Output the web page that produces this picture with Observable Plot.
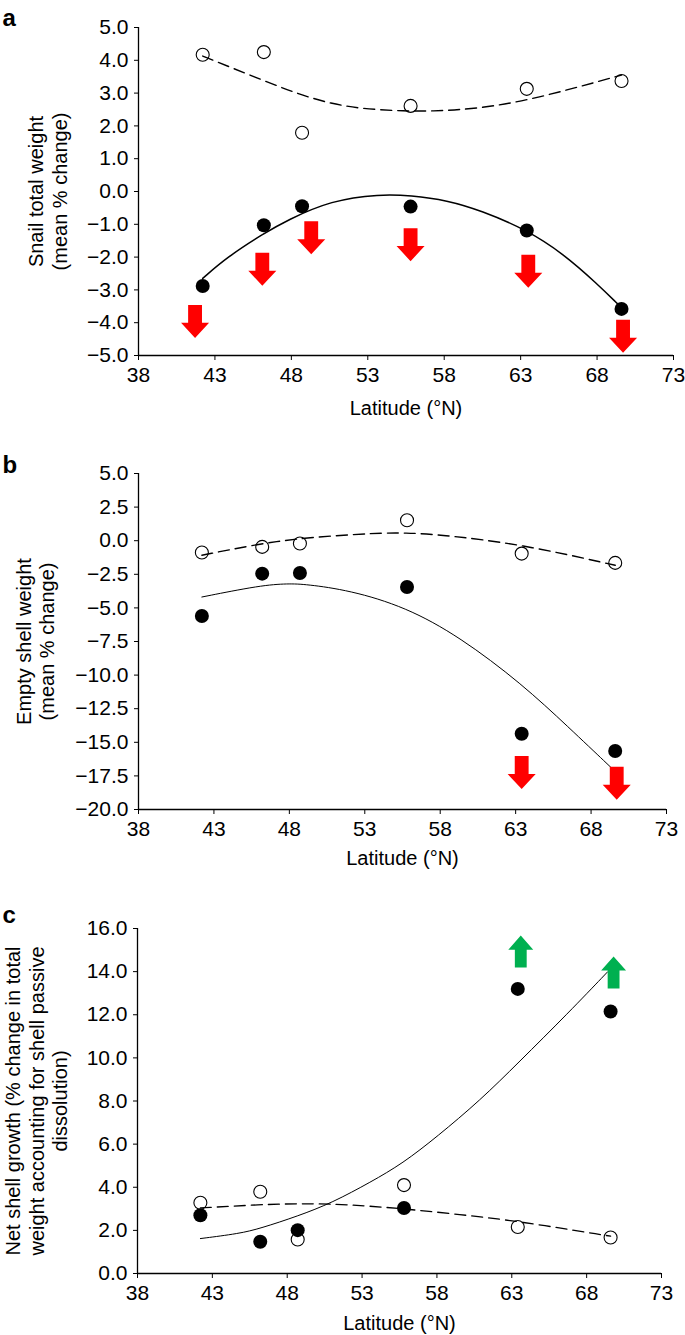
<!DOCTYPE html>
<html><head><meta charset="utf-8">
<script src="https://cdn.jsdelivr.net/npm/d3@7"></script>
<script src="https://cdn.jsdelivr.net/npm/@observablehq/plot@0.6"></script>
<style>
body{margin:0;background:#fff;}
#chart{position:relative;width:685px;height:1335px;}
#chart > svg{position:absolute;left:0;}
</style></head>
<body><div id="chart"></div>
<script>
const FONT = "'Liberation Sans', Arial, Helvetica, sans-serif";
const xTicks = [38, 43, 48, 53, 58, 63, 68, 73];
const latitude = [42.2, 46.2, 48.7, 55.8, 63.4, 69.6];

// Panel a – snail total weight (mean % change)
const aTicks = [-5, -4, -3, -2, -1, 0, 1, 2, 3, 4, 5];
const aOpen = [4.17, 4.25, 1.79, 2.61, 3.13, 3.37];
const aFilled = [-2.88, -1.03, -0.45, -0.46, -1.19, -3.58];
const aDashedLat = [42.2, 44.0, 46.2, 48.4, 50.6, 52.7, 55.0, 57.1, 60.4, 63.6, 66.9, 69.6];
const aDashedVal = [4.13, 3.79, 3.38, 2.98, 2.67, 2.52, 2.46, 2.44, 2.53, 2.80, 3.20, 3.55];
const aSolidLat = [42.2, 43.8, 46.2, 47.7, 50.6, 53.8, 55.8, 58.2, 60.4, 63.4, 65.8, 68.0, 69.4];
const aSolidVal = [-2.65, -2.0, -1.28, -0.88, -0.27, -0.08, -0.12, -0.27, -0.58, -1.17, -1.90, -2.81, -3.45];
const aArrowLat = [41.7, 46.1, 49.3, 55.8, 63.5, 69.7];
const aArrowVal = [-3.96, -2.37, -1.41, -1.62, -2.43, -4.41];

// Panel b – empty shell weight (mean % change)
const bTicks = [-20, -17.5, -15, -12.5, -10, -7.5, -5, -2.5, 0, 2.5, 5];
const bOpen = [-0.88, -0.46, -0.21, 1.52, -0.96, -1.65];
const bFilled = [-5.6, -2.45, -2.40, -3.44, -14.36, -15.65];
const bDashedLat = [42.2, 46.1, 49.1, 53.8, 55.7, 57.8, 63.4, 69.6];
const bDashedVal = [-1.08, -0.21, 0.23, 0.58, 0.58, 0.48, -0.26, -1.83];
const bSolidLat = [42.2, 46.1, 47.9, 49.1, 52.0, 55.7, 59.3, 63.4, 66.5, 69.3];
const bSolidVal = [-4.19, -3.32, -3.19, -3.24, -3.69, -4.93, -7.16, -10.64, -13.87, -16.85];
const bArrowLat = [63.4, 69.7];
const bArrowVal = [-17.25, -18.04];

// Panel c – net shell growth
const cTicks = [0, 2, 4, 6, 8, 10, 12, 14, 16];
const cOpen = [3.28, 3.79, 1.58, 4.10, 2.16, 1.67];
const cFilled = [2.70, 1.47, 2.01, 3.04, 13.2, 12.15];
const cDashedLat = [42.2, 46.2, 49.2, 52.1, 55.7, 59.5, 63.4, 69.6];
const cDashedVal = [3.04, 3.20, 3.25, 3.20, 3.01, 2.74, 2.43, 1.73];
const cSolidLat = [42.2, 44.8, 46.2, 48.7, 51.0, 53.6, 55.7, 58.0, 60.9, 63.4, 66.8, 69.4];
const cSolidVal = [1.62, 1.85, 2.09, 2.66, 3.28, 4.25, 5.10, 6.34, 8.04, 9.75, 12.10, 13.99];
const cArrowLat = [63.6, 69.8];
const cArrowVal = [14.93, 13.96];

// Block arrow symbols (drawn around the point centre)
const downArrow = {
  draw(ctx, size) {
    const s = Math.sqrt(size / Math.PI);
    const sw = 0.42 * s, hw = 0.85 * s, hb = 0.09 * s;
    ctx.moveTo(-sw, -s); ctx.lineTo(sw, -s); ctx.lineTo(sw, hb); ctx.lineTo(hw, hb);
    ctx.lineTo(0, s); ctx.lineTo(-hw, hb); ctx.lineTo(-sw, hb); ctx.closePath();
  }
};
const upArrow = {
  draw(ctx, size) {
    const s = Math.sqrt(size / Math.PI);
    const sw = 0.37 * s, hw = 0.78 * s, hb = -0.12 * s;
    ctx.moveTo(-sw, s); ctx.lineTo(sw, s); ctx.lineTo(sw, hb); ctx.lineTo(hw, hb);
    ctx.lineTo(0, -s); ctx.lineTo(-hw, hb); ctx.lineTo(-sw, hb); ctx.closePath();
  }
};

const pts = (lat, val) => lat.map((x, i) => ({x, y: val[i]}));

function panel(c) {
  const svg = Plot.plot({
    width: 685, height: c.height,
    marginTop: c.mt, marginBottom: c.mb, marginLeft: c.ml, marginRight: c.mr,
    style: {fontFamily: FONT, fontSize: "20px", color: "#000", background: "transparent", overflow: "visible"},
    x: {domain: [38, 73]},
    y: {domain: c.yDomain},
    marks: [
      Plot.axisX({ticks: xTicks, tickFormat: d => String(d), tickSize: 5, tickPadding: 7, label: null, fontSize: 21}),
      Plot.axisY({ticks: c.yTicks, tickFormat: d3.format(".1f"), tickSize: 4, tickPadding: 6, label: null, fontSize: 21}),
      Plot.ruleY([c.yDomain[0]], {strokeWidth: 1.3}),
      Plot.ruleX([38], {strokeWidth: 1.3}),
      Plot.line(pts(c.dashLat, c.dashVal), {x: "x", y: "y", curve: "basis", strokeWidth: c.dashW, strokeDasharray: "11,6"}),
      Plot.line(pts(c.solidLat, c.solidVal), {x: "x", y: "y", curve: "basis", strokeWidth: c.solidW}),
      Plot.dot(pts(latitude, c.open), {x: "x", y: "y", r: 6.5, stroke: "#000", strokeWidth: 1.1, fill: "none"}),
      Plot.dot(pts(latitude, c.filled), {x: "x", y: "y", r: 7, fill: "#000", stroke: "none"}),
      Plot.dot(pts(c.arrowLat, c.arrowVal), {x: "x", y: "y", r: c.arrowR, symbol: c.arrowSymbol, fill: c.arrowColor, stroke: "none"}),
      Plot.text([c.ylabel], {text: d => d, frameAnchor: "left", dx: c.ylabelX - c.ml, rotate: -90, fontSize: 20, lineHeight: c.lineHeight, textAnchor: "middle", lineAnchor: "middle"}),
      Plot.text(["Latitude (°N)"], {text: d => d, frameAnchor: "bottom", dy: c.xlabelDy, fontSize: 20, lineAnchor: "middle"}),
      Plot.text([c.letter], {text: d => d, frameAnchor: "top-left", dx: 2 - c.ml, dy: c.letterDy, fontSize: 24, fontWeight: "bold", textAnchor: "start", lineAnchor: "bottom"})
    ]
  });
  svg.style.top = c.top + "px";
  document.getElementById("chart").appendChild(svg);
}

panel({top: 0, height: 420, mt: 27, mb: 65, ml: 138, mr: 12, yDomain: [-5, 5], yTicks: aTicks,
  open: aOpen, filled: aFilled, dashLat: aDashedLat, dashVal: aDashedVal, solidLat: aSolidLat, solidVal: aSolidVal,
  dashW: 1.4, solidW: 1.5, arrowLat: aArrowLat, arrowVal: aArrowVal, arrowR: 16.5, arrowSymbol: downArrow, arrowColor: "#ff0000",
  ylabel: "Snail total weight\n(mean % change)", ylabelX: 47, lineHeight: 1.2, xlabelDy: 53, letter: "a", letterDy: -2});

panel({top: 430, height: 440, mt: 43, mb: 61, ml: 138, mr: 19, yDomain: [-20, 5], yTicks: bTicks,
  open: bOpen, filled: bFilled, dashLat: bDashedLat, dashVal: bDashedVal, solidLat: bSolidLat, solidVal: bSolidVal,
  dashW: 1.4, solidW: 1, arrowLat: bArrowLat, arrowVal: bArrowVal, arrowR: 16.5, arrowSymbol: downArrow, arrowColor: "#ff0000",
  ylabel: "Empty shell weight\n(mean % change)", ylabelX: 35, lineHeight: 1.15, xlabelDy: 49, letter: "b", letterDy: -1});

panel({top: 880, height: 455, mt: 48, mb: 62, ml: 137, mr: 24, yDomain: [0, 16], yTicks: cTicks,
  open: cOpen, filled: cFilled, dashLat: cDashedLat, dashVal: cDashedVal, solidLat: cSolidLat, solidVal: cSolidVal,
  dashW: 1.3, solidW: 1, arrowLat: cArrowLat, arrowVal: cArrowVal, arrowR: 16, arrowSymbol: upArrow, arrowColor: "#00b050",
  ylabel: "Net shell growth (% change in total\nweight accounting for shell passive\ndissolution)", ylabelX: 35.5, lineHeight: 1.18, xlabelDy: 50, letter: "c", letterDy: -6});
</script>
</body></html>
